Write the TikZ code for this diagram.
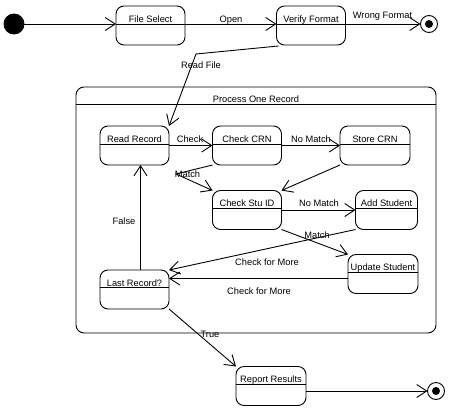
\documentclass[tikz,border=0pt]{standalone}
\usepackage{fontspec}
\setmainfont{Liberation Sans}
\usetikzlibrary{arrows.meta,calc}
\newcommand\umlstate[5]{% name, center, text, divider offset, width
  \node[state, minimum width=#5pt] (#1) at (#2) {};
  \draw ($(#1.north west)+(0,#4)$) -- ($(#1.north east)+(0,#4)$);
  \node[sname] (#1-name) at ($(#1.north)+(0,16)$) {#3};
}
\begin{document}
\begin{tikzpicture}[x=1pt,y=-1pt, line width=0.9pt,
  >={Straight Barb[length=10pt,width=13pt]},
  state/.style={draw, rounded corners=8pt, minimum height=39pt, inner sep=0pt, outer sep=0pt},
  sname/.style={anchor=base, inner sep=0pt, font=\fontsize{9.3}{11}\selectfont},
  elabel/.style={anchor=base, inner sep=0pt, font=\fontsize{9.3}{11}\selectfont},
  trans/.style={->}
]
\useasboundingbox[fill=white] (0,0) rectangle (452,410);

% container
\node[draw, rounded corners=8pt, minimum width=360pt, minimum height=246pt, inner sep=0pt, outer sep=0pt] (por) at (256,210) {};
\draw ($(por.north west)+(0,17)$) -- ($(por.north east)+(0,17)$);
\node[sname] (por-name) at ($(por.north)+(0,15)$) {Process One Record};

% pseudo states
\node[circle, fill, draw, minimum size=20pt, inner sep=0pt, outer sep=0pt] (init) at (14,24) {};
\node[circle, draw, minimum size=17pt, inner sep=0pt, outer sep=0pt] (end1) at (429,24) {};
\node[circle, fill, minimum size=8pt, inner sep=0pt] (end1dot) at (end1) {};
\node[circle, draw, minimum size=17pt, inner sep=0pt, outer sep=0pt] (end2) at (436,391) {};
\node[circle, fill, minimum size=8pt, inner sep=0pt] (end2dot) at (end2) {};

% states
\umlstate{fs}{150.5,25.5}{File Select}{18}{69}
\umlstate{vf}{311,25.5}{Verify Format}{18}{69}
\umlstate{rr}{134.5,145.5}{Read Record}{18}{69}
\umlstate{crn}{247,145.5}{Check CRN}{18}{69}
\umlstate{scrn}{375,145.5}{Store CRN}{18}{70}
\umlstate{sid}{247,210}{Check Stu ID}{18}{69}
\umlstate{add}{386.5,210}{Add Student}{18}{62}
\umlstate{upd}{383,274}{Update Student}{18}{70}
\umlstate{lr}{134.5,289.5}{Last Record?}{17}{69}
\umlstate{rep}{271,386}{Report Results}{18}{70}

% transitions
\draw[trans] (init.east) -- (init -| fs.west);
\draw[trans] (fs.east |- init) -- (vf.west |- init);
\node[elabel] (l-open) at (231,22) {Open};
\draw[trans] (vf.east |- end1) -- (end1.west);
\node[elabel] (l-wrong) at (382.5,18) {Wrong Format};
\coordinate (rfbend) at (196,54);
\draw[trans] ($(vf.south west)+(2,1)$) -- (rfbend) -- (rr.north east);
\node[elabel] (l-read) at (201,68) {Read File};

\draw[trans] (rr.east) -- (crn.west);
\node[elabel] (l-check) at (190,142) {Check};
\draw[trans] (crn.east) -- (scrn.west);
\node[elabel] (l-nomatch1) at (311,142) {No Match};
\coordinate (mbend) at (176,174);
\draw[trans] (crn.south west) -- (mbend) -- (sid.north west);
\node[elabel] (l-match1) at (187.5,177) {Match};
\draw[trans] (scrn.south west) -- (sid.north east);
\draw[trans] (sid.east) -- (add.west);
\node[elabel] (l-nomatch2) at (319,206) {No Match};
\draw[trans] (sid.south east) -- (upd.north west);
\node[elabel] (l-match2) at (317,238) {Match};
\draw[trans] (add.south west) -- (lr.north east);
\node[elabel] (l-more1) at (267,265) {Check for More};
\draw[trans] ([yshift=-4.5pt]upd.west) -- ([yshift=-4.5pt]upd.west -| lr.east);
\node[elabel] (l-more2) at (259,294) {Check for More};
\draw[trans] ([xshift=6pt]lr.north) -- ([xshift=6pt]lr.north |- rr.south);
\node[elabel] (l-false) at (124,224) {False};
\draw[trans] (lr.south east) -- (rep.north west);
\node[elabel] (l-true) at (210,337) {True};
\draw[trans] (rep.east |- end2) -- (end2.west);
\end{tikzpicture}
\end{document}
